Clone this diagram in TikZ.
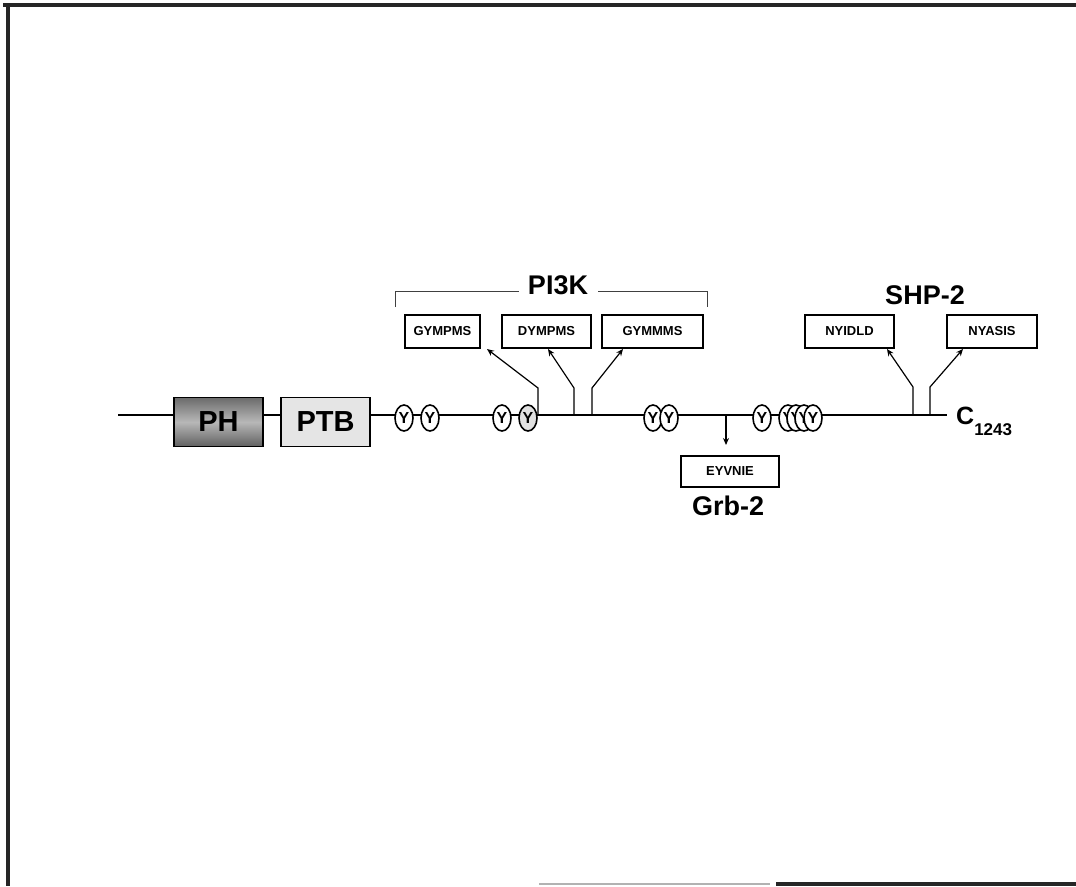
\documentclass[tikz,border=0pt]{standalone}
\usepackage{fontspec}
\setmainfont{Liberation Sans}
\usetikzlibrary{shapes.geometric,arrows.meta}
\begin{document}
\begin{tikzpicture}[x=1pt,y=-1pt,
  frame/.style={line width=3.5pt, black!85},
  backbone/.style={line width=2.4pt},
  protdomain/.style={draw, line width=1.6pt, minimum height=49pt, inner sep=0pt,
    font=\fontsize{29}{29}\selectfont\bfseries},
  tyr/.style={ellipse, draw, line width=1.6pt, fill=white, minimum width=18pt,
    minimum height=26pt, inner sep=0pt, font=\fontsize{16}{16}\selectfont\bfseries},
  motif/.style={draw, line width=1.3pt, fill=white, minimum height=33pt, inner sep=0pt,
    font=\fontsize{13}{13}\selectfont\bfseries},
  partner/.style={font=\fontsize{27}{27}\selectfont\bfseries, inner sep=0pt},
  link/.style={line width=1.2pt, -{Stealth[length=7pt,width=6pt]}},
  bracket/.style={line width=1pt, black!75}]
\useasboundingbox (0,0) rectangle (1076,886);
% frame
\draw[frame] (3,5) -- (1076,5);
\draw[frame] (8,5) -- (8,886);
\draw[line width=2pt, black!30] (539,884) -- (770,884);
\draw[frame] (776,884) -- (1076,884);
% backbone
\coordinate (nterm) at (118,415);
\coordinate (cend) at (947,415);
\draw[backbone] (nterm) -- (cend);
\node[anchor=west, inner sep=0pt, font=\fontsize{25}{25}\selectfont\bfseries] (cterm) at (956,421)
  {C\raisebox{-0.45em}{\fontsize{17}{17}\selectfont 1243}};
% domains
\node[protdomain, minimum width=89pt, top color=black!58, bottom color=black!62, middle color=black!28] (ph) at (218.5,422) {PH};
\node[protdomain, minimum width=89pt, fill=black!10] (ptb) at (325.5,422) {PTB};
% tyrosines
\node[tyr] (y1) at (404,418) {Y};
\node[tyr] (y2) at (430,418) {Y};
\node[tyr] (y3) at (502,418) {Y};
\node[tyr, fill=black!12] (y4) at (528,418) {Y};
\node[tyr] (y5) at (653,418) {Y};
\node[tyr] (y6) at (669,418) {Y};
\node[tyr] (y7) at (762,418) {Y};
\node[tyr] (y8) at (788,418) {Y};
\node[tyr] (y9) at (796,418) {Y};
\node[tyr] (y10) at (804,418) {Y};
\node[tyr] (y11) at (813,418) {Y};
% PI3K
\node[partner] (pi3k) at (558,285) {PI3K};
\coordinate (bl) at (395,307);
\coordinate (br) at (707,307);
\coordinate (bgl) at (519,291);
\coordinate (bgr) at (598,291);
\draw[bracket] (bl) |- (bgl);
\draw[bracket] (bgr) -| (br);
\node[motif, minimum width=75pt] (m1) at (442.5,331.5) {GYMPMS};
\node[motif, minimum width=89pt] (m2) at (546.5,331.5) {DYMPMS};
\node[motif, minimum width=101pt] (m3) at (652.5,331.5) {GYMMMS};
\coordinate (s1) at (538,415); \coordinate (k1) at (538,388); \coordinate (t1) at (487,349);
\coordinate (s2) at (574,415); \coordinate (k2) at (574,388); \coordinate (t2) at (548,349);
\coordinate (s3) at (592,415); \coordinate (k3) at (592,388); \coordinate (t3) at (623,349);
\draw[link] (s1) -- (k1) -- (t1);
\draw[link] (s2) -- (k2) -- (t2);
\draw[link] (s3) -- (k3) -- (t3);
% Grb-2
\coordinate (s4) at (726,415);
\coordinate (t4) at (726,445);
\node[motif, minimum width=98pt, minimum height=31pt] (m4) at (730,471.5) {EYVNIE};
\draw[link] (s4) -- (t4);
\node[partner] (grb2) at (728,506) {Grb-2};
% SHP-2
\node[partner] (shp2) at (925,295) {SHP-2};
\node[motif, minimum width=89pt] (m5) at (849.5,331.5) {NYIDLD\hspace{12pt}};
\node[motif, minimum width=90pt] (m6) at (992,331.5) {NYASIS\hspace{12pt}};
\coordinate (s5) at (913,415); \coordinate (k5) at (913,387); \coordinate (t5) at (887,349);
\coordinate (s6) at (930,415); \coordinate (k6) at (930,387); \coordinate (t6) at (963,349);
\draw[link] (s5) -- (k5) -- (t5);
\draw[link] (s6) -- (k6) -- (t6);
\end{tikzpicture}
\end{document}
